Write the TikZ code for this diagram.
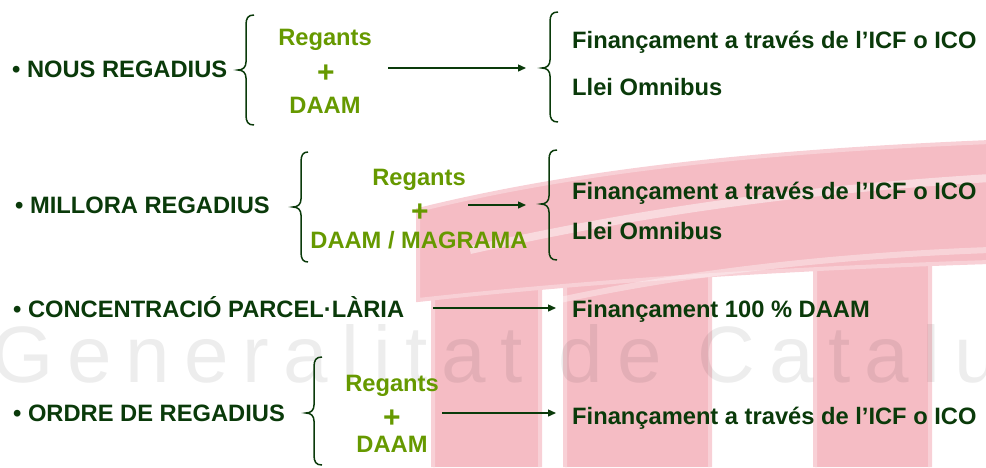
\documentclass[tikz,border=0pt]{standalone}
\usepackage{fontspec}
\setmainfont{Liberation Sans}
\usetikzlibrary{arrows.meta}
\definecolor{dkgreen}{RGB}{10,58,10}
\definecolor{ltgreen}{RGB}{102,153,0}
\definecolor{wpink}{RGB}{245,188,196}
\newcommand\mybrace[6]{%
  \draw[brc] (#6,#2) .. controls (#1+2,#2) and (#1,#2+3) .. (#1,#2+10)
    -- (#1,#3-8) .. controls (#1,#3-3) and (#1-3,#3) .. (#5,#3)
    .. controls (#1-3,#3) and (#1,#3+3) .. (#1,#3+8)
    -- (#1,#4-10) .. controls (#1,#4-3) and (#1+2,#4) .. (#6,#4);}
\begin{document}
\begin{tikzpicture}[x=1pt,y=-1pt,
  lbl/.style={anchor=base west, inner sep=0pt, text=dkgreen, font=\fontsize{23.7}{28}\selectfont\bfseries},
  gtxt/.style={anchor=base, inner sep=0pt, text=ltgreen, font=\fontsize{23.7}{28}\selectfont\bfseries},
  plustxt/.style={anchor=center, inner sep=0pt, text=ltgreen, font=\fontsize{30}{30}\selectfont\bfseries},
  conn/.style={draw=dkgreen, line width=1.4pt, -{Triangle[length=8pt,width=7pt]}},
  brc/.style={draw=dkgreen, line width=1.5pt},
  pinkshape/.style={fill=wpink, draw=wpink!70, line width=4pt},
  wmark/.style={anchor=base west, inner sep=0pt, text=black, text opacity=0.07, font=\fontsize{80}{80}\selectfont\addfontfeature{LetterSpace=17.5}}
]
\useasboundingbox (0,0) rectangle (986,467);
% background watermark
\path[pinkshape] (433,467) -- (433,235) -- (540,220) -- (540,467);
\path[pinkshape] (565,467) -- (565,215) -- (710,200) -- (710,467);
\path[pinkshape] (815,467) -- (815,190) -- (930,185) -- (930,467);
\path[pinkshape] (418,210) .. controls (600,165) and (800,150) .. (990,142)
  -- (990,262) .. controls (800,268) and (600,280) .. (418,300) -- cycle;
\draw[white, opacity=0.45, line width=8pt] (470,250) .. controls (650,210) and (800,190) .. (990,178);
\draw[white, opacity=0.35, line width=6pt] (560,300) .. controls (700,270) and (850,255) .. (990,250);
\node[wmark] (wm) at (-9,382) {Generalitat de Catalunya};
% row 1
\node[lbl] (l1) at (12,77) {• NOUS REGADIUS};
\mybrace{246}{15}{70}{125}{238}{254}
\node[gtxt] (g1a) at (325,45) {Regants};
\node[plustxt] (g1p) at (326,74) {+};
\node[gtxt] (g1b) at (325,113) {DAAM};
\coordinate (a1s) at (388,68);
\coordinate (a1e) at (526,68);
\draw[conn] (a1s) -- (a1e);
\mybrace{550}{12}{68}{122}{542}{558}
\node[lbl] (r1a) at (572,48) {Finançament a través de l’ICF o ICO};
\node[lbl] (r1b) at (572,95) {Llei Omnibus};
% row 2
\node[lbl] (l2) at (15,213) {• MILLORA REGADIUS};
\mybrace{301}{152}{207}{262}{293}{308}
\node[gtxt] (g2a) at (419,185) {Regants};
\node[plustxt] (g2p) at (420,213) {+};
\node[gtxt] (g2b) at (419,248) {DAAM / MAGRAMA};
\coordinate (a2s) at (468,205);
\coordinate (a2e) at (526,205);
\draw[conn] (a2s) -- (a2e);
\mybrace{549}{150}{204}{260}{541}{557}
\node[lbl] (r2a) at (572,199) {Finançament a través de l’ICF o ICO};
\node[lbl] (r2b) at (572,239) {Llei Omnibus};
% row 3
\node[lbl] (l3) at (13,317) {• CONCENTRACIÓ PARCEL·LÀRIA};
\coordinate (a3s) at (433,308);
\coordinate (a3e) at (556,308);
\draw[conn] (a3s) -- (a3e);
\node[lbl] (r3) at (572,317) {Finançament 100 \% DAAM};
% row 4
\node[lbl] (l4) at (13,421) {• ORDRE DE REGADIUS};
\mybrace{314}{357}{413}{465}{306}{322}
\node[gtxt] (g4a) at (392,391) {Regants};
\node[plustxt] (g4p) at (392,419) {+};
\node[gtxt] (g4b) at (392,452) {DAAM};
\coordinate (a4s) at (442,413);
\coordinate (a4e) at (556,413);
\draw[conn] (a4s) -- (a4e);
\node[lbl] (r4) at (572,424) {Finançament a través de l’ICF o ICO};
\end{tikzpicture}
\end{document}
